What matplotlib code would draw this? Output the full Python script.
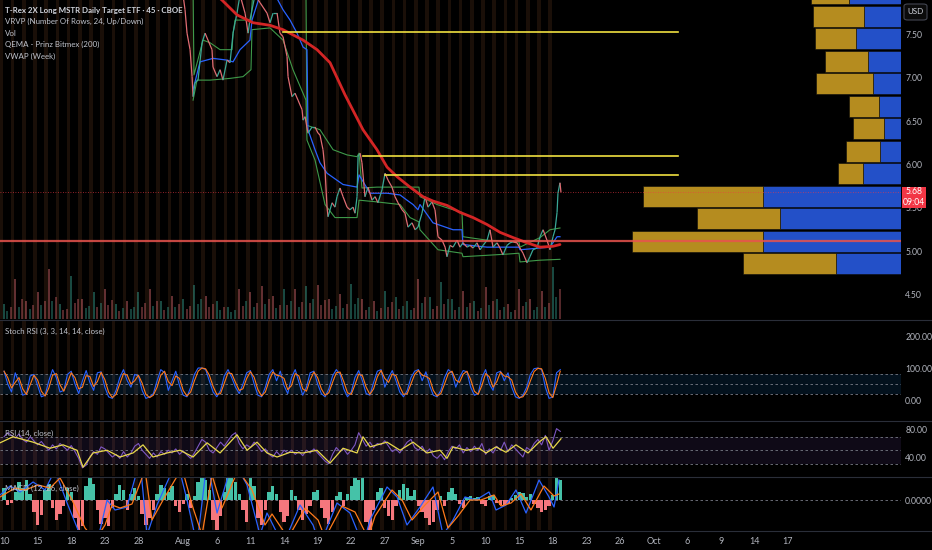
import numpy as np
import pandas as pd
import matplotlib
matplotlib.use("Agg")
import matplotlib.pyplot as plt
from matplotlib.collections import LineCollection
from matplotlib.patches import Rectangle, FancyBboxPatch
from matplotlib.lines import Line2D

plt.rcParams['font.family'] = ['Lato', 'DejaVu Sans']
LEGEND_FONT = ['Lato', 'DejaVu Sans']

# ---------------- data (x = trading sessions since Jul 10) ----------------
price_days = [15.80,16.16,16.34,16.61,16.79,16.88,17.05,17.32,17.68,17.95,
              18.21,18.57,18.66,19.02,19.29,19.55,19.91,20.18,20.45,20.63,
              20.80,21.07,21.52,21.79,21.96,22.41,22.86,23.48,23.75,24.02,
              24.38,24.64,24.91,25.27,25.36,25.71,25.98,26.25,26.61,26.70,
              26.88,27.14,27.50,27.77,28.04,28.21,28.48,28.66,28.84,28.93,
              29.29,29.55,29.73,30.00,30.27,30.63,30.89,31.16,31.34,31.52,
              31.61,31.79,31.96,32.23,32.50,32.86,33.13,33.39,33.75,34.02,
              34.29,34.64,34.91,35.18,35.54,35.80,36.07,36.43,36.70,36.96,
              37.32,37.59,37.86,38.21,38.48,38.75,39.11,39.38,39.55,39.82,
              40.09,40.45,40.71,40.98,41.34,41.61,41.88,42.23,42.50,42.77,
              43.13,43.39,43.66,44.02,44.29,44.55,44.91,45.18,45.45,45.80,
              46.07,46.34,46.70,46.96,47.23,47.59,47.86,48.13,48.48,48.75,
              49.02,49.20,49.38,49.46,49.64,49.73]
price_close = [8.12,7.78,7.51,7.32,7.01,6.78,6.94,6.97,7.40,7.51,
               7.43,7.32,7.12,7.01,7.09,6.97,7.20,7.17,7.51,7.63,
               7.74,7.95,7.74,7.51,7.66,7.95,7.86,7.74,7.63,7.74,
               7.74,7.51,7.47,7.24,7.01,6.78,6.82,6.74,6.63,6.51,
               6.55,6.36,6.43,6.43,6.36,6.34,6.17,5.94,5.51,5.40,
               5.56,5.51,5.63,5.73,5.63,5.51,5.48,5.51,5.44,5.63,
               6.09,6.13,6.02,5.63,5.74,5.59,5.63,5.56,5.71,5.90,
               5.82,5.74,5.63,5.56,5.48,5.44,5.28,5.33,5.25,5.28,
               5.44,5.63,5.51,5.57,5.48,5.17,5.13,5.05,4.94,5.07,
               5.05,5.13,5.05,5.10,5.05,5.07,5.04,5.10,5.02,5.07,
               5.13,5.25,5.05,5.10,5.04,4.96,5.07,5.10,5.11,5.10,
               5.04,4.98,4.87,4.94,5.02,5.04,5.17,5.25,5.13,5.02,
               5.17,5.25,5.45,5.67,5.79,5.68]
last_price = 5.68
last_time = "09:04"

qema_days = [17.95,19.46,20.80,22.23,23.75,24.91,26.70,27.95,29.11,30.45,
             32.05,33.30,34.20,35.09,36.25,37.41,38.30,39.55,40.71,41.88,
             43.13,44.29,45.45,46.70,47.86,49.02,49.64]
qema = [8.06,7.89,7.72,7.63,7.60,7.55,7.43,7.32,7.17,6.80,
        6.40,6.17,5.97,5.86,5.74,5.63,5.58,5.53,5.45,5.39,
        5.31,5.22,5.16,5.10,5.05,5.06,5.08]

vwap_days = [16.88,17.50,18.66,19.91,20.45,21.07,21.96,22.14,22.86,24.20,
             24.91,25.54,26.16,26.70,27.05,27.14,27.77,28.21,28.84,30.27,
             31.52,31.70,32.68,34.20,35.36,35.98,36.52,36.96,37.14,38.30,
             40.09,40.89,40.98,43.13,44.29,45.98,46.07,47.86,48.75,49.38,49.64]
vwap = [6.86,7.18,7.22,7.20,7.18,7.32,7.43,7.66,7.95,7.95,
        7.78,7.66,7.51,7.35,7.32,6.40,6.17,6.02,5.90,5.77,
        5.74,5.88,5.67,5.67,5.65,5.59,5.54,5.48,5.54,5.33,
        5.25,5.25,5.08,5.05,5.05,5.05,5.02,5.04,5.05,5.17,5.17]
upper_days = [16.16,16.88,16.96,17.77,18.39,19.29,20.36,20.45,20.63,22.05,
              22.23,26.96,27.05,28.21,29.38,30.63,31.52,31.70,31.96,33.30,
              35.98,37.05,37.14,38.66,40.09,40.89,40.98,43.13,45.98,46.07,
              47.86,48.75,49.64]
upper_band = [8.01,8.01,7.03,7.43,7.40,7.32,7.32,7.51,7.66,7.66,
              8.01,8.01,6.45,6.40,6.17,6.11,6.09,6.13,5.73,5.74,
              5.74,5.74,5.63,5.54,5.48,5.45,5.17,5.13,5.11,5.05,
              5.16,5.25,5.27]
lower_days = [16.88,17.23,18.39,20.18,21.34,22.05,22.14,23.75,24.91,25.80,
              26.96,27.05,27.77,28.66,29.55,31.52,31.70,33.30,35.36,36.25,
              37.05,37.14,38.75,40.89,40.98,44.91,45.98,46.07,47.86,49.64]
lower_band = [6.74,6.97,6.97,6.99,7.01,7.09,7.55,7.57,7.43,7.09,
              6.74,6.28,6.05,5.54,5.39,5.39,5.59,5.57,5.54,5.39,
              5.34,5.25,5.02,4.98,4.94,4.97,4.98,4.88,4.90,4.91]

# horizontal levels
level_prices = [7.52, 6.10, 5.88]
level_start = [24.91, 32.05, 34.02]
level_end = 60.2
poc_price = 5.12

# volume (thousand shares): open / midday / late bar of each session
vol_open = [15,40,18,27,50,15,43,20,27,30,15,18,27,30,18,23,20,34,23,18,
            12,30,27,33,23,30,30,33,34,20,25,35,20,18,28,22,18,40,22,37,
            20,28,18,32,20,15,30,20,28,52]
vol_mid = [8,12,10,14,18,9,16,11,12,14,8,10,12,13,9,12,10,15,12,9,
           7,13,12,15,11,14,12,16,14,10,11,15,9,8,12,10,9,16,10,15,
           9,12,8,14,9,7,13,9,12,22]
vol_late = [12,20,14,18,22,10,20,13,16,19,11,12,16,18,12,15,13,20,15,12,
            9,18,16,20,14,18,17,20,19,13,15,21,12,11,17,13,11,22,13,20,
            12,16,11,18,12,9,17,12,16,30]

# visible range volume profile rows (bottom row starts at 4.73)
vp_bottom = 4.73
vp_row = 0.2586
vp_up = [65,138,121,138,38,21,17,22,28,33,45,37,52]
vp_down = [93,131,83,120,25,34,31,30,57,43,41,51,38]

# oscillators sampled three times per session
stoch_k = [90,50,25,85,55,15,20,75,80,45,
           10,15,60,95,70,25,30,80,90,50,
           20,60,92,55,30,85,88,40,10,5,
           30,70,95,60,40,80,75,30,5,10,
           20,60,95,85,30,60,90,45,15,10,
           40,80,100,100,95,60,25,10,30,75,
           95,70,40,20,50,85,92,50,15,10,
           40,80,95,60,90,45,20,70,95,55,
           15,40,85,90,50,20,10,35,75,95,
           80,35,10,25,70,92,60,20,15,55,
           90,95,40,70,92,60,25,10,30,70,
           90,95,60,88,45,15,10,30,70,95,
           85,40,70,92,88,40,15,20,70,95,
           50,30,85,90,60,85,40,10,5,15,
           40,80,98,100,95,40,5,10,85,95]
rsi = [70,76,72,68,74,66,62,70,64,58,
       63,56,50,58,52,60,55,50,57,48,
       38,24,28,40,48,44,55,52,46,40,
       44,38,48,40,46,56,60,50,44,38,
       46,40,48,44,50,46,52,44,49,43,
       38,46,56,66,62,50,46,54,62,56,
       64,72,76,60,52,58,54,62,56,48,
       52,44,40,48,42,50,46,50,44,48,
       42,50,46,52,46,40,34,30,44,54,
       48,52,44,50,58,76,66,56,62,54,
       60,58,64,56,48,52,46,54,62,66,
       54,50,56,46,52,42,38,44,36,48,
       56,52,58,46,54,48,56,50,60,44,
       52,46,56,50,62,48,58,52,46,40,
       54,50,60,66,58,72,50,64,82,78]
macd_hist = [12,-5,-3,8,18,12,20,6,-12,-25,
             -15,10,16,-8,-20,-14,-6,12,8,-18,
             -30,-26,14,22,16,-10,-24,-18,-26,-8,
             6,15,10,-10,6,12,4,-14,-25,-18,
             -10,6,15,12,8,14,-6,-12,-4,6,
             -8,4,18,23,20,10,-20,-30,-16,8,
             22,23,18,6,-10,-22,23,14,-18,-25,
             -10,8,14,6,-12,-22,-16,10,4,-10,
             -20,-14,-6,8,10,-8,-18,-24,-12,4,
             8,-6,6,14,23,20,23,-22,-30,-10,
             8,12,-8,-16,-20,-6,10,16,12,4,
             10,-6,-12,-18,-25,-22,-10,4,-6,8,
             12,6,-4,-8,3,4,2,3,-4,-6,
             4,5,-3,-5,-6,-4,2,5,8,7,
             3,6,-4,-8,-12,-10,-6,5,23,20]

rsi_ma_days = [-0.36,0.80,2.59,4.11,5.27,6.52,7.05,7.95,9.20,10.36,
               11.52,12.41,13.30,14.55,15.71,16.88,18.13,19.29,20.80,21.70,
               22.59,23.48,24.38,25.54,26.70,27.95,29.11,30.27,31.52,32.05,
               32.68,34.20,35.36,36.52,37.77,38.93,39.55,40.09,41.25,42.41,
               43.04,43.93,44.82,45.71,46.79,47.77,48.39,49.02,49.73]
rsi_ma = [61,70,62,53,58,50,25,46,50,40,
          46,58,40,46,50,40,61,46,73,50,
          62,46,40,47,46,50,31,53,46,70,
          55,62,50,62,46,50,38,55,50,53,
          46,55,47,58,46,62,70,53,67]

macd_days = [-0.36,0.54,1.43,2.59,3.66,4.55,5.63,6.79,7.68,8.57,
             9.20,9.91,10.98,12.14,12.77,13.66,15.45,16.34,17.23,18.13,
             19.02,20.45,21.70,22.86,23.48,24.91,26.43,27.59,28.21,29.73,
             30.89,32.05,32.68,34.20,35.09,35.98,37.14,38.30,39.20,40.09,
             41.16,42.14,43.30,43.93,44.82,45.71,46.61,47.77,48.66,49.11,49.55]
macd_line = [5,14,8,18,10,30,-3,-35,-50,-30,
             0,-10,-7,40,-35,-5,40,0,-45,40,
             -13,40,15,-35,-13,-45,-5,-25,-45,-3,
             -13,-45,-20,13,3,-25,-7,13,-35,-20,
             3,0,8,-10,-5,10,-13,20,3,-7,20]
sig_days = [-0.36,0.98,1.88,3.04,4.11,5.00,6.07,7.23,8.13,9.02,
            9.64,10.36,11.43,12.59,13.21,14.20,15.89,16.79,17.68,18.57,
            19.46,20.89,22.14,23.30,23.93,25.36,26.88,28.04,28.66,30.18,
            31.34,32.50,33.13,34.64,35.54,36.43,37.59,38.75,39.64,40.54,
            41.61,42.59,43.75,44.38,45.27,46.16,47.05,48.21,49.11,49.55]
macd_signal = [3,12,10,15,12,22,0,-28,-40,-25,
               -5,-8,-4,30,-20,0,32,-5,-35,25,
               -8,30,10,-25,-14,-38,-8,-20,-38,-6,
               -12,-38,-16,10,0,-20,-5,8,-28,-16,
               0,0,5,-6,-3,6,-10,14,4,6]

date_ticks = [0,3,6,9,12,16,19,22,25,28,31,34,37,40,43,46,49,52,55,58,61,64,67,70]
date_labels = ['10','15','18','23','28','Aug','6','11','14','19','22','27',
               'Sep','5','10','15','18','23','26','Oct','6','9','14','17']
n_sessions = 50

# ---------------- styling ----------------
BG = '#000000'
TXT = '#b2b5be'
STRIPE = '#1a0f08'
UP = '#3aa896'
DOWN = '#e06c72'
GRIDLINE = '#2a2e39'

W, H = 932, 550
fig = plt.figure(figsize=(W / 100, H / 100), dpi=100, facecolor=BG)

def frame(top, bottom, right=901):
    return [0, 1 - bottom / H, right / W, (bottom - top) / H]

ax = fig.add_axes(frame(0, 319))
ax_st = fig.add_axes(frame(320, 420), sharex=ax)
ax_rsi = fig.add_axes(frame(421, 476), sharex=ax)
ax_macd = fig.add_axes(frame(477, 530), sharex=ax)
panels = [ax, ax_st, ax_rsi, ax_macd]

for a in panels:
    a.set_facecolor(BG)
    for s in a.spines.values():
        s.set_visible(False)
    a.yaxis.tick_right()
    a.tick_params(axis='y', length=0, labelsize=6.2, labelcolor=TXT, pad=3)
    a.tick_params(axis='x', length=0, labelbottom=False)
    for d in range(n_sessions):
        a.axvspan(d - 0.40, d - 0.08, color=STRIPE, lw=0, zorder=0)

ax.set_xlim(-0.36, 80.09)

# ---- main price pane ----
# volume along the bottom, scaled to the pane height
VOL_TOP = 320.0
sess = np.arange(n_sessions)
rsi_arr = np.array(rsi, dtype=float)
for offs, vols, w in [(0.0, vol_open, 1.4), (0.3, vol_mid, 1.2), (0.62, vol_late, 1.2)]:
    xs = sess + offs
    idx = np.clip(np.round(xs * 3).astype(int), 1, len(rsi_arr) - 1)
    cols = [UP if rsi_arr[i] >= rsi_arr[i - 1] else DOWN for i in idx]
    ax.vlines(xs, 0, np.array(vols) / VOL_TOP, colors=cols, lw=w, alpha=0.45,
              transform=ax.get_xaxis_transform(), zorder=1)

# price path coloured by direction
pd_arr = np.array(price_days)
pc_arr = np.array(price_close)
segs = np.stack([np.column_stack([pd_arr[:-1], pc_arr[:-1]]),
                 np.column_stack([pd_arr[1:], pc_arr[1:]])], axis=1)
seg_cols = [UP if b >= a_ else DOWN for a_, b in zip(pc_arr[:-1], pc_arr[1:])]
ax.add_collection(LineCollection(segs, colors=seg_cols, lw=0.9, zorder=4))

# weekly VWAP with bands
ax.plot(upper_days, upper_band, color='#3f9a4a', lw=0.8, zorder=3)
ax.plot(lower_days, lower_band, color='#3f9a4a', lw=0.8, zorder=3)
ax.plot(vwap_days, vwap, color='#2962ff', lw=0.9, zorder=3)
# QEMA (200)
ax.plot(qema_days, qema, color='#d32525', lw=2.0, zorder=5, solid_capstyle='round')
# drawn levels
for lp, ls in zip(level_prices, level_start):
    ax.plot([ls, level_end], [lp, lp], color='#f0e040', lw=1.2, zorder=5)

ax.set_ylim(4.224, 7.891)
ax.set_yticks([4.5, 5.0, 5.5, 6.0, 6.5, 7.0, 7.5])
ax.set_yticklabels([f'{v:.2f}' for v in [4.5, 5.0, 5.5, 6.0, 6.5, 7.0, 7.5]])

# volume profile anchored to the right edge
ax_vp = ax.twiny()
ax_vp.set_zorder(ax.get_zorder() + 1)
ax_vp.patch.set_visible(False)
for s in ax_vp.spines.values():
    s.set_visible(False)
ax_vp.set_xticks([])
tot = np.array(vp_up) + np.array(vp_down)
ax_vp.set_xlim(tot.max() / 0.2985, 0)
centers = vp_bottom + vp_row * (np.arange(len(vp_up)) + 0.5)
ax_vp.barh(centers, vp_up, height=vp_row * 0.95, left=0, color='#2350c8',
           edgecolor='#0a0a0a', lw=0.4, zorder=2)
ax_vp.barh(centers, vp_down, height=vp_row * 0.95, left=vp_up, color='#b58c1f',
           edgecolor='#0a0a0a', lw=0.4, zorder=2)
# point of control and last price lines
ax_vp.axhline(poc_price, color='#e8534d', lw=1.6, alpha=0.85, zorder=4)
ax_vp.axhline(last_price, color='#f23645', lw=0.6, ls=(0, (1, 2)), alpha=0.8, zorder=4)
ax_vp.set_ylim(4.224, 7.891)

# last price tag on the price scale
ytf = ax_vp.get_yaxis_transform()
tag = Rectangle((1.001, 5.500), 0.027, 0.242, transform=ytf, facecolor='#f23645',
                edgecolor='none', clip_on=False, zorder=20)
ax_vp.add_patch(tag)
ax_vp.text(1.0145, 5.684, f'{last_price:.2f}', transform=ytf, ha='center', va='center',
           fontsize=6.2, color='white', clip_on=False, zorder=21)
ax_vp.text(1.0145, 5.558, last_time, transform=ytf, ha='center', va='center',
           fontsize=6.2, color='white', clip_on=False, zorder=21)

# ---- Stoch RSI pane ----
k_days = np.arange(len(stoch_k)) / 3.0
stoch_d = pd.Series(stoch_k, dtype=float).rolling(2, min_periods=1).mean()
ax_st.axhspan(20, 80, color='#1e88e5', alpha=0.13, lw=0, zorder=0.5)
for lvl in (20, 50, 80):
    ax_st.axhline(lvl, color='#787b86', lw=0.6, ls=(0, (3, 3)), zorder=1)
ax_st.plot(k_days, stoch_k, color='#2962ff', lw=0.8, zorder=3)
ax_st.plot(k_days, stoch_d, color='#ff7a1a', lw=0.8, zorder=4)
ax_st.set_ylim(-62.5, 250)
ax_st.set_yticks([0, 100, 200])
ax_st.set_yticklabels(['0.00', '100.00', '200.00'])

# ---- RSI pane ----
r_days = np.arange(len(rsi)) / 3.0
ax_rsi.axhspan(30, 70, color='#7e57c2', alpha=0.12, lw=0, zorder=0.5)
for lvl in (30, 50, 70):
    ax_rsi.axhline(lvl, color='#787b86', lw=0.6, ls=(0, (3, 3)), zorder=1)
ax_rsi.plot(r_days, rsi, color='#7e57c2', lw=0.8, zorder=3)
ax_rsi.plot(rsi_ma_days, rsi_ma, color='#e8d84a', lw=0.9, zorder=4)
ax_rsi.set_ylim(11.9, 93.3)
ax_rsi.set_yticks([40, 80])
ax_rsi.set_yticklabels(['40.00', '80.00'])

# ---- MACD pane ----
h = np.array(macd_hist) / 1000.0
h_days = np.arange(len(h)) / 3.0
ax_macd.bar(h_days, h, width=0.3, color=np.where(h >= 0, '#45c2a8', '#f5777d'),
            lw=0, zorder=2)
ax_macd.axhline(0, color='#787b86', lw=0.6, ls=(0, (3, 3)), zorder=1)
ax_macd.plot(macd_days, np.array(macd_line) / 1000.0, color='#2962ff', lw=0.9, zorder=3)
ax_macd.plot(sig_days, np.array(macd_signal) / 1000.0, color='#ff7a1a', lw=0.9, zorder=4)
ax_macd.set_ylim(-0.030, 0.023)
ax_macd.set_yticks([0])
ax_macd.set_yticklabels(['0.0000'])

ax_macd.set_xticks(date_ticks)
ax_macd.set_xticklabels(date_labels)
ax_macd.tick_params(axis='x', labelbottom=True, labelsize=6.5, labelcolor=TXT, pad=5)
ax.set_xlim(-0.36, 80.09)

# pane separators
for ypx in (319.5, 420.5, 476.5, 530.5):
    fig.add_artist(Line2D([0, 1], [1 - ypx / H] * 2, transform=fig.transFigure,
                          color=GRIDLINE, lw=0.8))

# legends
legend_lines = [("T-Rex 2X Long MSTR Daily Target ETF · 45 · CBOE", '#d1d4dc', 'bold'),
                ("VRVP (Number Of Rows, 24, Up/Down)", '#c0c3cc', 'normal'),
                ("Vol", '#c0c3cc', 'normal'),
                ("QEMA - Prinz Bitmex (200)", '#c0c3cc', 'normal'),
                ("VWAP (Week)", '#c0c3cc', 'normal')]
for i, (t, c, wgt) in enumerate(legend_lines):
    fig.text(5 / W, 1 - (10 + 11.5 * i) / H, t, color=c, fontsize=5.7,
             fontweight=wgt, va='center', ha='left', family=LEGEND_FONT)
for ypx, t in [(331, "Stoch RSI (3, 3, 14, 14, close)"), (433, "RSI (14, close)"),
               (488, "MACD (12, 26, close)")]:
    fig.text(5 / W, 1 - ypx / H, t, color='#c0c3cc', fontsize=5.7, va='center',
             family=LEGEND_FONT)

# currency badge
badge = FancyBboxPatch((904 / W, 1 - 20 / H), 23 / W, 16 / H,
                       boxstyle='round,pad=0,rounding_size=0.004',
                       transform=fig.transFigure, facecolor='#0b0b0b',
                       edgecolor='#434651', lw=0.8)
fig.add_artist(badge)
fig.text(915.5 / W, 1 - 12 / H, 'USD', color='#d1d4dc', fontsize=5.8,
         ha='center', va='center')

fig.savefig('out.png', dpi=100, facecolor=BG)
